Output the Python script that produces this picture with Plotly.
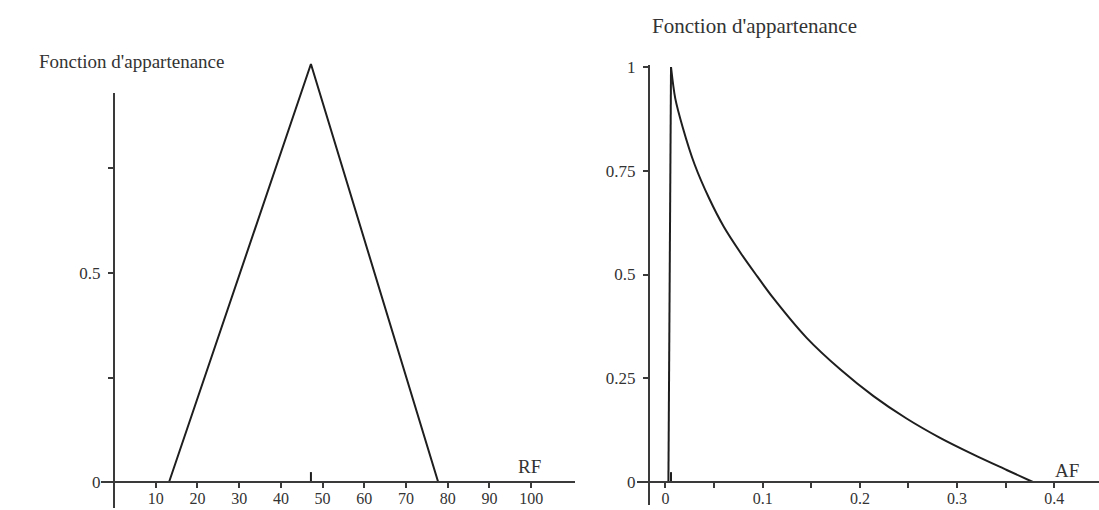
import plotly.graph_objects as go

# membership function for RF (triangle)
rf_x = [13.2, 47.2, 77.7]
rf_y = [0, 1, 0]
rf_peak = [47.2]

# membership function for AF (sharp rise, then decay)
af_rise_x = [0.003, 0.0057]
af_rise_y = [0, 1]
af_x = [0.0057, 0.010, 0.0177, 0.030, 0.045, 0.060, 0.077, 0.093, 0.111, 0.145, 0.18, 0.214, 0.248, 0.282, 0.317, 0.351, 0.378]
af_y = [1, 0.925, 0.855, 0.765, 0.683, 0.615, 0.553, 0.5, 0.443, 0.348, 0.271, 0.207, 0.153, 0.107, 0.066, 0.029, 0]
af_peak = [0.0057]

rf_ticks = [10, 20, 30, 40, 50, 60, 70, 80, 90, 100]
rf_yticks = [0, 0.25, 0.5, 0.75]
rf_ytext = ["0", "", "0.5", ""]
af_ticks = [0, 0.05, 0.1, 0.15, 0.2, 0.25, 0.3, 0.35, 0.4]
af_text = ["0", "", "0.1", "", "0.2", "", "0.3", "", "0.4"]
af_yticks = [0, 0.25, 0.5, 0.75, 1]
af_ytext = ["0", "0.25", "0.5", "0.75", "1"]

W, H = 1099, 510
FONT = "Liberation Serif"
INK = "#1e1e1e"
AX = "#3a3a3a"


def px(v):
    return v / W


def py(v):
    return 1 - v / H


line = dict(color=INK, width=2)
mark = dict(symbol="line-ns-open", size=7, color=INK, line=dict(color=INK, width=2))

fig = go.Figure()
# left: curve on an invisible y axis tall enough for the peak
fig.add_trace(go.Scatter(x=rf_x, y=rf_y, mode="lines", line=line, xaxis="x", yaxis="y"))
fig.add_trace(go.Scatter(x=rf_peak, y=[0.012], mode="markers", marker=mark, xaxis="x", yaxis="y"))
# left: visible y axis (shorter than the curve)
fig.add_trace(go.Scatter(x=[None], y=[None], mode="lines", xaxis="x", yaxis="y3"))
# right
fig.add_trace(go.Scatter(x=af_rise_x, y=af_rise_y, mode="lines", line=line, xaxis="x2", yaxis="y2"))
fig.add_trace(go.Scatter(x=af_x, y=af_y, mode="lines",
                         line=dict(color=INK, width=2, shape="spline", smoothing=0.8),
                         xaxis="x2", yaxis="y2"))
fig.add_trace(go.Scatter(x=af_peak, y=[0.012], mode="markers", marker=mark, xaxis="x2", yaxis="y2"))

axis_common = dict(showgrid=False, zeroline=False, showline=True, linecolor=AX, linewidth=2,
                   ticks="outside", ticklen=5, tickwidth=1.5, tickcolor=AX, anchor="free",
                   fixedrange=True)
xtick = dict(tickfont=dict(family=FONT, size=16, color="#333"), ticklabelstandoff=-3)
ytick = dict(tickfont=dict(family=FONT, size=17, color="#333"), ticklabelstandoff=4)

fig.update_layout(
    width=W, height=H,
    margin=dict(l=0, r=0, t=0, b=0, autoexpand=False),
    paper_bgcolor="white", plot_bgcolor="rgba(0,0,0,0)",
    showlegend=False,
    xaxis=dict(domain=[px(101), px(575)], range=[-3.12, 110.5], tickvals=rf_ticks,
               position=py(482), **axis_common, **xtick),
    yaxis=dict(domain=[py(508), py(58)], range=[-0.0622, 1.0144], visible=False, fixedrange=True),
    yaxis3=dict(domain=[py(508), py(93)], range=[-0.0622, 0.9306], tickvals=rf_yticks, ticktext=rf_ytext,
                position=px(114), **axis_common, **ytick),
    xaxis2=dict(domain=[px(637), px(1099)], range=[-0.0293, 0.446], tickvals=af_ticks, ticktext=af_text,
                position=py(482), **axis_common, **xtick),
    yaxis2=dict(domain=[py(505), py(65)], range=[-0.0554, 1.0048], tickvals=af_yticks, ticktext=af_ytext,
                position=px(649), **axis_common, **ytick),
)

fig.add_annotation(text="Fonction d'appartenance", x=px(37), y=py(61), xref="paper", yref="paper",
                   xanchor="left", yanchor="middle", showarrow=False, font=dict(family=FONT, size=19, color="#333"))
fig.add_annotation(text="Fonction d'appartenance", x=px(650), y=py(26), xref="paper", yref="paper",
                   xanchor="left", yanchor="middle", showarrow=False, font=dict(family=FONT, size=21, color="#333"))
fig.add_annotation(text="RF", x=px(529), y=py(466), xref="paper", yref="paper",
                   xanchor="center", yanchor="middle", showarrow=False, font=dict(family=FONT, size=19, color="#333"))
fig.add_annotation(text="AF", x=px(1067), y=py(470), xref="paper", yref="paper",
                   xanchor="center", yanchor="middle", showarrow=False, font=dict(family=FONT, size=19, color="#333"))

fig.write_html("out.html", config={"displayModeBar": False},
               post_script="document.body.style.margin='0';document.body.style.overflow='hidden';")
